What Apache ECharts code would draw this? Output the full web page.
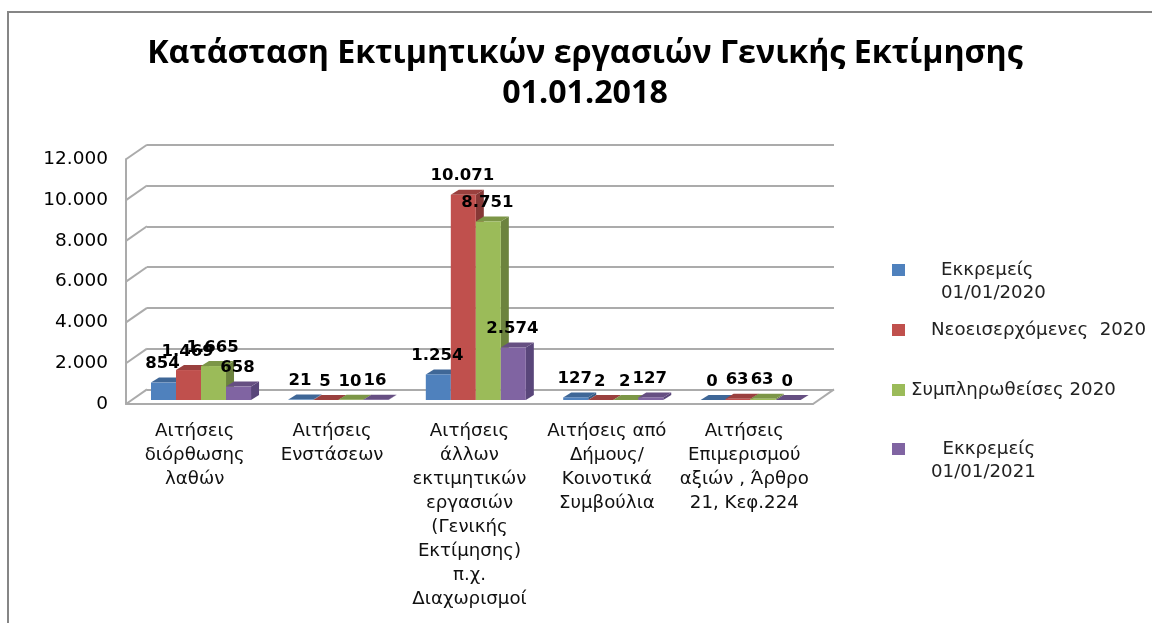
<!DOCTYPE html>
<html><head><meta charset="utf-8">
<style>html,body{margin:0;padding:0;background:#fff}#c{width:1152px;height:623px}</style>
<script src="https://cdn.jsdelivr.net/npm/echarts@6/dist/echarts.min.js"></script>
</head><body><div id="c"></div>
<script>
const titleText = 'Κατάσταση Εκτιμητικών εργασιών Γενικής Εκτίμησης\n01.01.2018';
const categories = [
  'Αιτήσεις\nδιόρθωσης\nλαθών',
  'Αιτήσεις\nΕνστάσεων',
  'Αιτήσεις\nάλλων\nεκτιμητικών\nεργασιών\n(Γενικής\nΕκτίμησης)\nπ.χ.\nΔιαχωρισμοί',
  'Αιτήσεις από\nΔήμους/\nΚοινοτικά\nΣυμβούλια',
  'Αιτήσεις\nΕπιμερισμού\nαξιών , Άρθρο\n21, Κεφ.224'
];
const seriesNames = ['Εκκρεμείς\n01/01/2020','Νεοεισερχόμενες  2020','Συμπληρωθείσες 2020','  Εκκρεμείς\n01/01/2021'];
const pending2020 = [854, 21, 1254, 127, 0];
const incoming2020 = [1469, 5, 10071, 2, 63];
const completed2020 = [1665, 10, 8751, 2, 63];
const pending2021 = [658, 16, 2574, 127, 0];
const seriesValues = [pending2020, incoming2020, completed2020, pending2021];
const yTicks = [0, 2000, 4000, 6000, 8000, 10000, 12000];

const frontColors = ['#4F81BD','#C0504D','#9BBB59','#8064A2'];
const topColors = ['#3F6797','#9A403E','#7C9647','#664F82'];
const sideColors = ['#375A84','#863836','#6C833E','#59467A'];
const legendTextLeft = [31, 21, 1, 21];
const legendMarkerY = [270, 330, 390, 449];

const fmt = v => String(v).replace(/\B(?=(\d{3})+$)/g, '.');
const WALL_DX = 21, WALL_DY = 14.6, BAR_DX = 8, BAR_DY = 5;
const SHIFT_X = 0, SHIFT_Y = 4;
const BAR_W = 0.182, GROUP_OFF = 0.182;
const PLOT = {left:126, top:159.3, width:687, height:244.7};
const GRID_COLOR = '#ababab';
const LEGEND_LH = 23;

function barItem(s){
  return function(params, api){
    const cat = api.value(0), val = api.value(1);
    const band = api.size([1,0])[0];
    const top = api.coord([cat, val]), base = api.coord([cat, 0]);
    const w = band * BAR_W;
    const x = base[0] - band/2 + band*GROUP_OFF + s*w + SHIFT_X;
    const yb = base[1] - SHIFT_Y, yt = top[1] - SHIFT_Y;
    const poly = (pts, fill) => ({type:'polygon', shape:{points:pts}, style:{fill:fill, stroke:null}});
    return {type:'group', children:[
      poly([[x+w,yt],[x+w+BAR_DX,yt-BAR_DY],[x+w+BAR_DX,yb-BAR_DY],[x+w,yb]], sideColors[s]),
      poly([[x,yt],[x+w,yt],[x+w+BAR_DX,yt-BAR_DY],[x+BAR_DX,yt-BAR_DY]], topColors[s]),
      {type:'rect', shape:{x:x, y:yt, width:w, height:yb-yt}, style:{fill:frontColors[s]}},
      {type:'text', z2:100, style:{x:x+w/2-1, y:yt-18.5, text:fmt(val), align:'center', verticalAlign:'middle',
        font:'bold 16.5px "DejaVu Sans"', fill:'#000'}}
    ]};
  };
}
function frameItem(params, api){
  const val = api.value(0);
  const l = api.coord([0, val]), band = api.size([1,0])[0];
  const x0 = l[0] - band/2, y0 = l[1];
  const lines = [{type:'line', shape:{x1:x0, y1:y0, x2:x0+WALL_DX, y2:y0-WALL_DY},
    style:{stroke:GRID_COLOR, lineWidth:2}}];
  if (val === 0) {
    const x1 = x0 + band*categories.length;
    lines.push({type:'line', shape:{x1:x1, y1:y0, x2:x1+WALL_DX, y2:y0-WALL_DY}, style:{stroke:GRID_COLOR, lineWidth:2}});
  }
  return {type:'group', children:lines};
}

const chart = echarts.init(document.getElementById('c'));
chart.setOption({
  animation:false,
  backgroundColor:'#fff',
  title:{text:titleText, left:580, top:29, textAlign:'center',
    textStyle:{fontFamily:'Open Sans', fontWeight:'bold', fontSize:32.2, lineHeight:40, color:'#000'}},
  graphic:[{type:'polyline', silent:true, shape:{points:[[8,623],[8,12],[1152,12]]},
    style:{stroke:'#868686', lineWidth:2, fill:null}}],
  grid:[
    {left:PLOT.left, top:PLOT.top, width:PLOT.width, height:PLOT.height},
    {left:PLOT.left+WALL_DX, top:PLOT.top-WALL_DY, width:PLOT.width, height:PLOT.height}
  ],
  xAxis:[
    {type:'category', gridIndex:0, data:categories, axisTick:{show:false},
      axisLine:{lineStyle:{color:GRID_COLOR, width:2}},
      axisLabel:{interval:0, margin:15, fontFamily:'DejaVu Sans', fontSize:18.2, lineHeight:24, color:'#111'}},
    {type:'category', gridIndex:1, data:categories, show:false}
  ],
  yAxis:[
    {type:'value', gridIndex:0, min:0, max:12000, interval:2000, splitLine:{show:false},
      axisTick:{show:false}, axisLine:{show:true, lineStyle:{color:GRID_COLOR, width:2}},
      axisLabel:{margin:18, formatter:fmt, fontFamily:'DejaVu Sans', fontSize:18.5, color:'#000', padding:[0,0,1,0]}},
    {type:'value', gridIndex:1, min:0, max:12000, interval:2000, axisLabel:{show:false},
      axisLine:{show:false}, axisTick:{show:false}, splitLine:{show:true, lineStyle:{color:GRID_COLOR, width:2}}}
  ],
  legend: seriesNames.map((n,i)=>{
    const twoLines = n.includes('\n');
    return {
      data:[n], left:892, top:legendMarkerY[i] - LEGEND_LH*(twoLines?1.5:0.5), orient:'vertical', padding:0,
      itemWidth:13, itemHeight:12, icon:'rect', selectedMode:false,
      formatter: t => twoLines ? '\n'+t : t,
      textStyle:{fontFamily:'DejaVu Sans', fontSize:18.2, lineHeight:LEGEND_LH, color:'#222',
        padding:[0,0,0,legendTextLeft[i]]}
    };
  }),
  series:[
    {type:'custom', name:'frame', coordinateSystem:'cartesian2d', xAxisIndex:0, yAxisIndex:0,
      data:yTicks.map(v=>[v]), encode:{y:0}, renderItem:frameItem, z:1, silent:true},
    ...seriesNames.map((n,s)=>({
      type:'custom', name:n, coordinateSystem:'cartesian2d', xAxisIndex:0, yAxisIndex:0,
      itemStyle:{color:frontColors[s]},
      data:seriesValues[s].map((v,i)=>[i,v]), encode:{x:0,y:1}, renderItem:barItem(s), z:3
    }))
  ]
});
</script></body></html>
